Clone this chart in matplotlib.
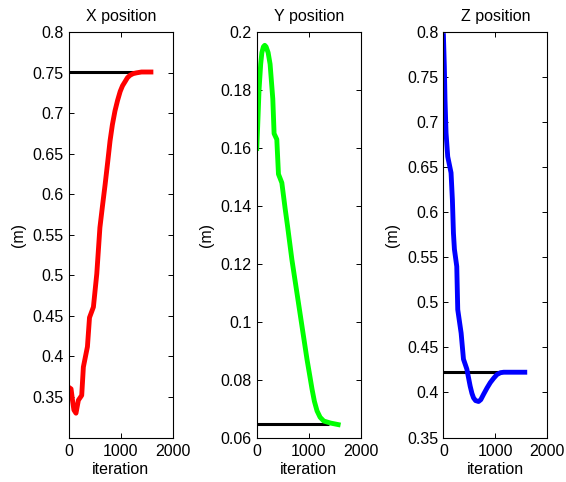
import matplotlib
matplotlib.use("Agg")
import matplotlib.pyplot as plt

plt.rcParams['font.family'] = ['Liberation Sans', 'DejaVu Sans']

# X position data
x_iter = [0, 45, 75, 100, 140, 186, 250, 282, 360, 400, 475, 540, 600, 650, 700, 750, 795, 840, 890, 940,
          990, 1035, 1083, 1130, 1180, 1240, 1308, 1400, 1628]
x_val = [0.362, 0.360, 0.345, 0.334, 0.330, 0.346, 0.352, 0.387, 0.412, 0.448, 0.461, 0.502, 0.559, 0.586,
         0.612, 0.640, 0.666, 0.686, 0.703, 0.716, 0.727, 0.734, 0.739, 0.744, 0.747, 0.749, 0.750, 0.751, 0.751]
x_ref = 0.751
x_ref_end = 1300

# Y position data
y_iter = [0, 19, 45, 77, 100, 129, 155, 181, 220, 258, 310, 335, 387, 419, 484, 548, 594, 677, 774, 871,
          968, 1020, 1065, 1110, 1161, 1220, 1290, 1419, 1613]
y_val = [0.159, 0.1675, 0.180, 0.189, 0.193, 0.195, 0.1955, 0.195, 0.193, 0.189, 0.177, 0.165, 0.163,
         0.151, 0.148, 0.139, 0.133, 0.1215, 0.110, 0.0985, 0.087, 0.0815, 0.0767, 0.0725, 0.0692, 0.0670,
         0.0657, 0.0650, 0.0643]
y_ref = 0.0648
y_ref_end = 1400

# Z position data
z_iter = [0, 19, 32, 52, 84, 148, 174, 194, 213, 258, 277, 342, 387, 452, 516, 550, 581, 620, 677, 720,
          774, 840, 903, 970, 1032, 1100, 1161, 1613]
z_val = [0.799, 0.762, 0.725, 0.688, 0.662, 0.644, 0.614, 0.577, 0.559, 0.540, 0.492, 0.466, 0.437, 0.426,
         0.407, 0.399, 0.394, 0.391, 0.390, 0.392, 0.398, 0.405, 0.411, 0.416, 0.420, 0.422, 0.4225, 0.4225]
z_ref = 0.4225
z_ref_end = 1150

titles = ["X position", "Y position", "Z position"]
colors = ["#ff0000", "#00ff00", "#0000ff"]
ylims = [(0.3, 0.8), (0.06, 0.2), (0.35, 0.8)]
yticks = [[0.35, 0.4, 0.45, 0.5, 0.55, 0.6, 0.65, 0.7, 0.75, 0.8],
          [0.06, 0.08, 0.1, 0.12, 0.14, 0.16, 0.18, 0.2],
          [0.35, 0.4, 0.45, 0.5, 0.55, 0.6, 0.65, 0.7, 0.75, 0.8]]
ytlabels = [["0.35", "0.4", "0.45", "0.5", "0.55", "0.6", "0.65", "0.7", "0.75", "0.8"],
            ["0.06", "0.08", "0.1", "0.12", "0.14", "0.16", "0.18", "0.2"],
            ["0.35", "0.4", "0.45", "0.5", "0.55", "0.6", "0.65", "0.7", "0.75", "0.8"]]
xticks = [0, 1000, 2000]

series = [(x_iter, x_val, x_ref, x_ref_end), (y_iter, y_val, y_ref, y_ref_end),
          (z_iter, z_val, z_ref, z_ref_end)]
lefts = [0.1214, 0.4535, 0.7833]

fs = 11.5
fig = plt.figure(figsize=(5.66, 4.82), dpi=100)
for i, (it, val, ref, ref_end) in enumerate(series):
    ax = fig.add_axes([lefts[i], 0.0923, 0.1837, 0.8407])
    ax.plot([0, ref_end], [ref, ref], color='black', lw=2.2, solid_capstyle='butt')
    ax.plot(it, val, color=colors[i], lw=3.5, solid_joinstyle='round', solid_capstyle='butt')
    ax.set_xlim(0, 2000)
    ax.set_ylim(*ylims[i])
    ax.set_xticks(xticks)
    ax.set_xticklabels([str(t) for t in xticks])
    ax.set_yticks(yticks[i])
    ax.set_yticklabels(ytlabels[i])
    ax.tick_params(direction='in', top=True, right=True, labelsize=fs, length=3.6, width=0.7)
    ax.tick_params(axis='x', pad=4.5)
    ax.tick_params(axis='y', pad=3.5)
    for s in ax.spines.values():
        s.set_linewidth(0.8)
    ax.set_title(titles[i], fontsize=fs, pad=8)
    ax.set_xlabel("iteration", fontsize=fs, labelpad=2.5)
    ax.set_ylabel("(m)", fontsize=fs, labelpad=5)

fig.savefig("out.png", dpi=100)
